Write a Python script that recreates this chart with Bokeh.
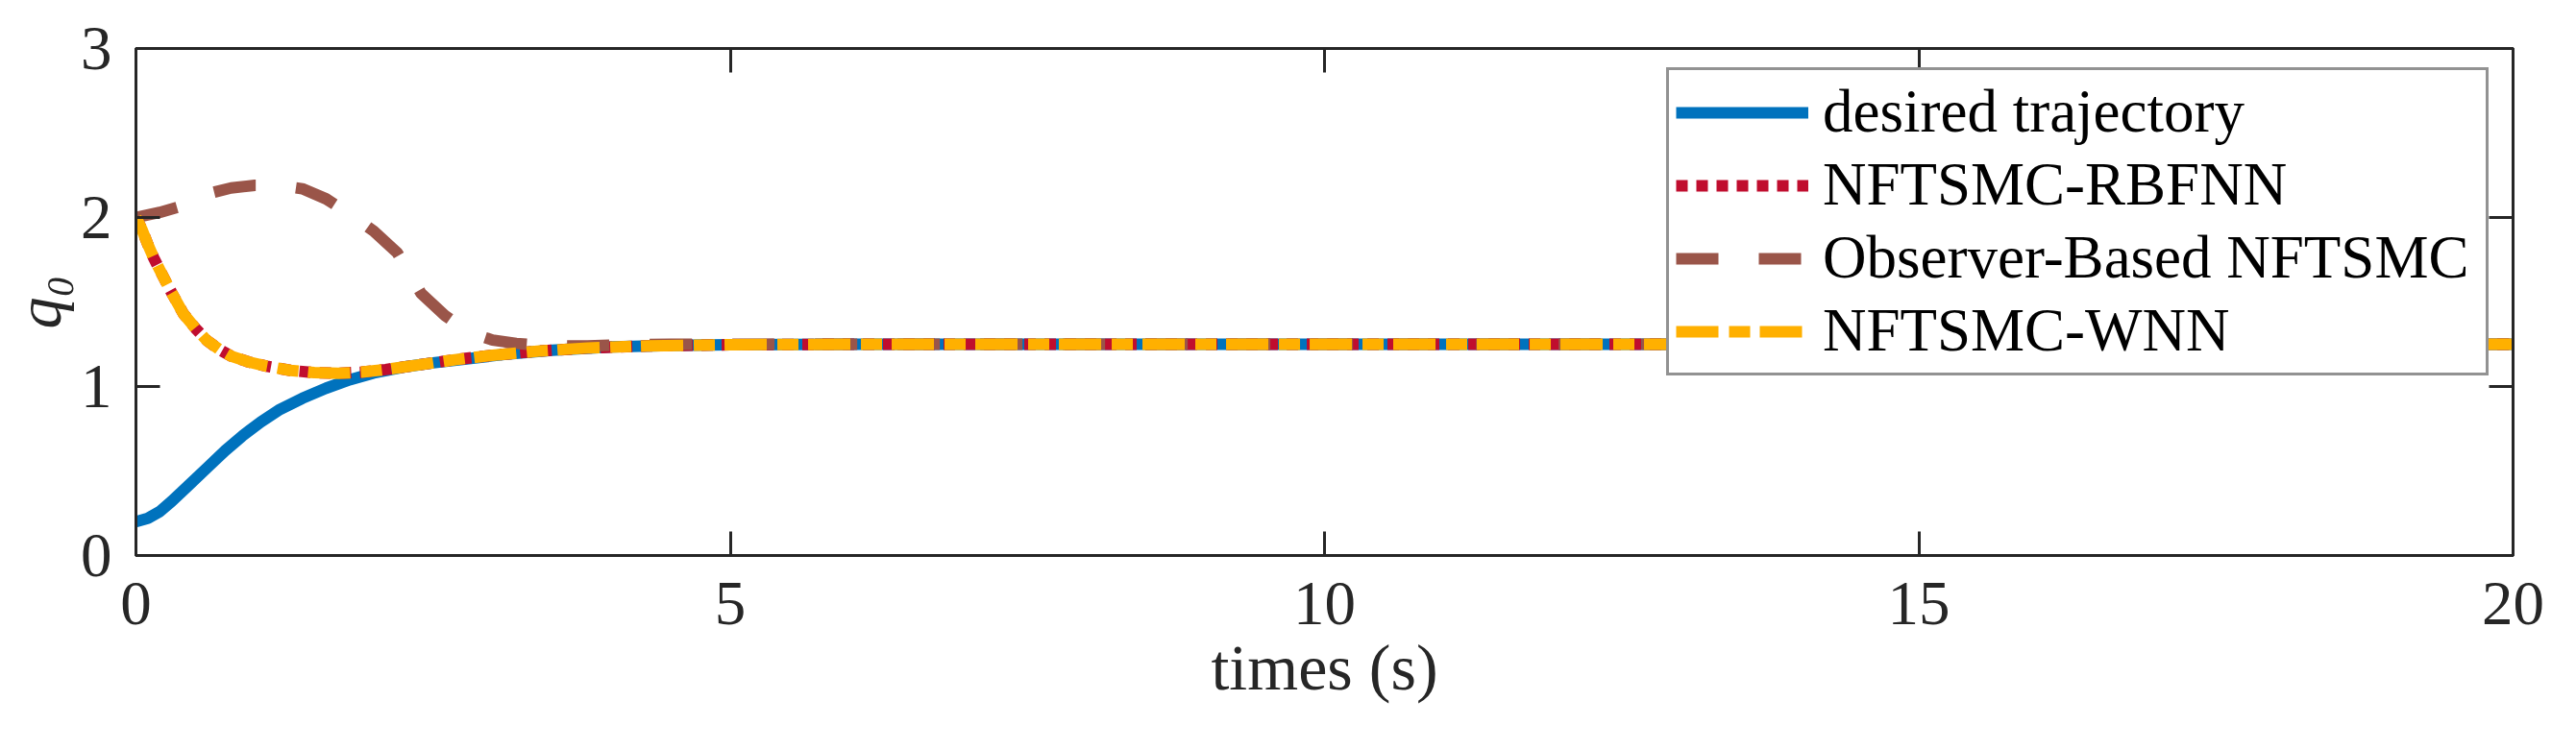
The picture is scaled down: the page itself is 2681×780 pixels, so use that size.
from bokeh.plotting import figure
from bokeh.models import LinearAxis, FixedTicker, Range1d
from bokeh.embed import file_html
from bokeh.resources import INLINE

# ---------------- data ----------------
t_desired = [0, 0.1, 0.2, 0.3, 0.45, 0.6, 0.75, 0.9, 1.05, 1.2, 1.4, 1.6, 1.8, 2.0,
             2.25, 2.5, 2.8, 3.1, 3.5, 4.0, 4.5, 5.0, 6, 8, 10, 15, 20]
q_desired = [0.2, 0.22, 0.26, 0.32, 0.42, 0.52, 0.62, 0.71, 0.79, 0.86, 0.93, 0.99, 1.04, 1.08,
             1.115, 1.14, 1.165, 1.19, 1.215, 1.235, 1.243, 1.247, 1.25, 1.25, 1.25, 1.25, 1.25]

t_rbfnn = [0, 0.05, 0.1, 0.15, 0.2, 0.3, 0.4, 0.5, 0.6, 0.7, 0.8, 0.95, 1.1, 1.3, 1.5,
           1.7, 1.9, 2.1, 2.4, 2.7, 3.0, 3.4, 3.8, 4.3, 5.0, 6, 10, 15, 20]
q_rbfnn = [2.0, 1.93, 1.84, 1.76, 1.69, 1.555, 1.43, 1.345, 1.27, 1.22, 1.18, 1.145, 1.12, 1.095, 1.082,
           1.078, 1.085, 1.10, 1.13, 1.16, 1.185, 1.21, 1.228, 1.24, 1.247, 1.25, 1.25, 1.25, 1.25]

t_observer = [0, 0.2, 0.4, 0.6, 0.8, 1.0, 1.2, 1.4, 1.6, 1.8, 2.0, 2.2, 2.3, 2.4, 2.6, 2.7,
              2.8, 3.0, 3.2, 3.4, 3.6, 3.8, 4.0, 4.5, 5, 6, 10, 15, 20]
q_observer = [2.0, 2.03, 2.07, 2.14, 2.175, 2.19, 2.19, 2.17, 2.11, 2.02, 1.92, 1.79, 1.67, 1.55, 1.42, 1.37,
              1.32, 1.275, 1.255, 1.245, 1.24, 1.24, 1.245, 1.25, 1.25, 1.25, 1.25, 1.25, 1.25]

t_wnn = [0, 0.05, 0.1, 0.15, 0.2, 0.3, 0.4, 0.5, 0.6, 0.7, 0.8, 0.95, 1.1, 1.3, 1.5,
         1.7, 1.9, 2.1, 2.4, 2.7, 3.0, 3.4, 3.8, 4.3, 5.0, 6, 10, 15, 20]
q_wnn = [2.0, 1.93, 1.84, 1.76, 1.69, 1.555, 1.43, 1.345, 1.27, 1.22, 1.18, 1.145, 1.12, 1.095, 1.082,
         1.078, 1.085, 1.10, 1.13, 1.16, 1.185, 1.21, 1.228, 1.24, 1.247, 1.25, 1.25, 1.25, 1.25]

x_ticks = [0, 5, 10, 15, 20]
y_ticks = [0, 1, 2, 3]

labels = ["desired trajectory", "NFTSMC-RBFNN", "Observer-Based NFTSMC", "NFTSMC-WNN"]
x_title = "times (s)"
y_title = "q\u2080"   # q with subscript 0

# ---------------- styling ----------------
FONT = "Liberation Serif"
AX = "#262626"

p = figure(width=2665, height=764, x_range=Range1d(0, 20), y_range=Range1d(0, 3),
           output_backend="svg", toolbar_location=None,
           min_border_left=138, min_border_right=50, min_border_top=50, min_border_bottom=186)
p.grid.visible = False
p.outline_line_color = AX
p.outline_line_width = 3
p.background_fill_color = "white"
p.border_fill_color = "white"

p.add_layout(LinearAxis(), "right")
p.add_layout(LinearAxis(), "above")

for ax in p.xaxis:
    ax.ticker = FixedTicker(ticks=x_ticks)
for ax in p.yaxis:
    ax.ticker = FixedTicker(ticks=y_ticks)

for ax in p.xaxis + p.yaxis:
    ax.major_tick_in = 25
    ax.major_tick_out = 0
    ax.minor_tick_in = 0
    ax.minor_tick_out = 0
    ax.axis_line_width = 3
    ax.axis_line_color = AX
    ax.major_tick_line_width = 3
    ax.major_tick_line_color = AX
    ax.major_label_text_font = FONT
    ax.major_label_text_font_size = "65px"
    ax.major_label_text_color = AX

# mirrored axes: ticks only, labels not drawn
for ax in (p.right[0], p.above[0]):
    ax.major_label_text_font_size = "8px"
    ax.major_label_text_color = None
    ax.major_label_standoff = 0

xb = p.below[0]
xb.major_label_standoff = 28
xb.axis_label = x_title
xb.axis_label_text_font = FONT
xb.axis_label_text_font_size = "68px"
xb.axis_label_text_font_style = "normal"
xb.axis_label_text_color = AX
xb.axis_label_standoff = 4

yl = p.left[0]
yl.major_label_standoff = 25
yl.axis_label = y_title
yl.axis_label_text_font = FONT
yl.axis_label_text_font_size = "66px"
yl.axis_label_text_font_style = "italic"
yl.axis_label_text_color = AX
yl.axis_label_standoff = 4

# ---------------- lines ----------------
LW = 12
p.line(t_desired, q_desired, line_width=LW, color="#0072BD", legend_label=labels[0])
p.line(t_rbfnn, q_rbfnn, line_width=LW, color="#C00D2E", line_dash="12 9", legend_label=labels[1])
p.line(t_observer, q_observer, line_width=LW, color="#9A5549", line_dash="44 42", legend_label=labels[2])
p.line(t_wnn, q_wnn, line_width=LW, color="#FFB000", line_dash="44 11 22 10", legend_label=labels[3])

lg = p.legend[0]
lg.location = (1593, 187)
lg.margin = 0
lg.padding = 7
lg.spacing = 3
lg.glyph_width = 138
lg.glyph_height = 40
lg.label_standoff = 15
lg.label_width = 683
lg.label_height = 62
lg.label_text_font = FONT
lg.label_text_font_size = "63px"
lg.label_text_color = "black"
lg.border_line_color = AX
lg.border_line_width = 3
lg.background_fill_color = "white"
lg.background_fill_alpha = 1.0

open("out.html", "w").write(file_html(p, INLINE))
